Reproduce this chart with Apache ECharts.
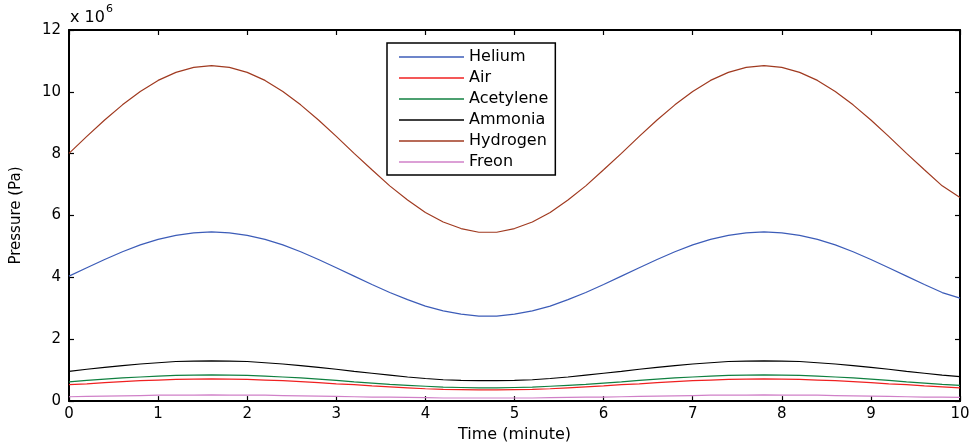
<!DOCTYPE html>
<html>
<head>
<meta charset="utf-8">
<script src="https://cdn.jsdelivr.net/npm/echarts@6/dist/echarts.min.js"></script>
<style>
  html, body { margin: 0; padding: 0; background: #fff; }
  #chart { width: 977px; height: 448px; }
</style>
</head>
<body>
<div id="chart"></div>
<script>
// time in minutes, pressure in units of 10^6 Pa
var times = [0,0.2,0.4,0.6,0.8,1,1.2,1.4,1.6,1.8,2,2.2,2.4,2.6,2.8,3,3.2,3.4,3.6,3.8,4,4.2,4.4,4.6,4.8,5,5.2,5.4,5.6,5.8,6,6.2,6.4,6.6,6.8,7,7.2,7.4,7.6,7.8,8,8.2,8.4,8.6,8.8,9,9.2,9.4,9.6,9.8,10];
var helium = [4.04,4.31,4.58,4.83,5.05,5.23,5.36,5.44,5.47,5.44,5.36,5.23,5.05,4.83,4.58,4.31,4.04,3.77,3.51,3.28,3.07,2.92,2.81,2.75,2.75,2.81,2.92,3.07,3.28,3.51,3.77,4.04,4.31,4.58,4.83,5.05,5.23,5.36,5.44,5.47,5.44,5.36,5.23,5.05,4.83,4.58,4.31,4.04,3.77,3.51,3.33];
var air = [0.53,0.56,0.60,0.63,0.66,0.68,0.70,0.71,0.72,0.71,0.70,0.68,0.66,0.63,0.60,0.56,0.53,0.49,0.46,0.43,0.40,0.38,0.37,0.36,0.36,0.37,0.38,0.40,0.43,0.46,0.49,0.53,0.56,0.60,0.63,0.66,0.68,0.70,0.71,0.72,0.71,0.70,0.68,0.66,0.63,0.60,0.56,0.53,0.49,0.46,0.43];
var acetylene = [0.62,0.67,0.71,0.75,0.78,0.81,0.83,0.84,0.85,0.84,0.83,0.81,0.78,0.75,0.71,0.67,0.62,0.58,0.54,0.51,0.48,0.45,0.44,0.43,0.43,0.44,0.45,0.48,0.51,0.54,0.58,0.62,0.67,0.71,0.75,0.78,0.81,0.83,0.84,0.85,0.84,0.83,0.81,0.78,0.75,0.71,0.67,0.62,0.58,0.54,0.51];
var ammonia = [0.96,1.03,1.09,1.15,1.20,1.24,1.28,1.29,1.30,1.29,1.28,1.24,1.20,1.15,1.09,1.03,0.96,0.90,0.84,0.78,0.73,0.69,0.67,0.66,0.66,0.67,0.69,0.73,0.78,0.84,0.90,0.96,1.03,1.09,1.15,1.20,1.24,1.28,1.29,1.30,1.29,1.28,1.24,1.20,1.15,1.09,1.03,0.96,0.90,0.84,0.79];
var hydrogen = [8.01,8.56,9.09,9.58,10.01,10.37,10.63,10.79,10.85,10.79,10.63,10.37,10.01,9.58,9.09,8.56,8.01,7.48,6.96,6.50,6.10,5.79,5.58,5.46,5.46,5.58,5.79,6.10,6.50,6.96,7.48,8.01,8.56,9.09,9.58,10.01,10.37,10.63,10.79,10.85,10.79,10.63,10.37,10.01,9.58,9.09,8.56,8.01,7.48,6.96,6.58];
var freon = [0.14,0.15,0.16,0.17,0.18,0.19,0.19,0.19,0.20,0.19,0.19,0.19,0.18,0.17,0.16,0.15,0.14,0.13,0.13,0.12,0.11,0.10,0.10,0.10,0.10,0.10,0.10,0.11,0.12,0.13,0.13,0.14,0.15,0.16,0.17,0.18,0.19,0.19,0.19,0.20,0.19,0.19,0.19,0.18,0.17,0.16,0.15,0.14,0.13,0.13,0.12];

var seriesNames = ['Helium', 'Air', 'Acetylene', 'Ammonia', 'Hydrogen', 'Freon'];
var seriesData = [helium, air, acetylene, ammonia, hydrogen, freon];
var seriesColors = ['#3c5cb8', '#f02020', '#108040', '#000000', '#a03a20', '#d080c8'];

var chart = echarts.init(document.getElementById('chart'));
var font = 'DejaVu Sans, Liberation Sans, sans-serif';

function pairs(vals) {
    var out = [];
    for (var i = 0; i < times.length; i++) {
        out.push([times[i], vals[i]]);
    }
    return out;
}

var series = [];
for (var k = 0; k < seriesNames.length; k++) {
    series.push({
        name: seriesNames[k],
        type: 'line',
        data: pairs(seriesData[k]),
        showSymbol: false,
        symbol: 'none',
        animation: false,
        lineStyle: { width: 1.2, color: seriesColors[k] },
        itemStyle: { color: seriesColors[k] }
    });
}

var axisLine = { show: true, onZero: false, lineStyle: { color: '#000', width: 2 } };
var tick = { show: true, inside: true, length: 5, lineStyle: { color: '#000', width: 1.2 } };

chart.setOption({
    backgroundColor: '#fff',
    animation: false,
    grid: { left: 69, right: 17, top: 30, bottom: 44, containLabel: false },
    legend: {
        orient: 'vertical',
        left: 387,
        top: 43,
        icon: 'rect',
        itemWidth: 65,
        itemHeight: 1.5,
        itemGap: 3,
        padding: [5, 7, 4, 12],
        backgroundColor: '#fff',
        borderColor: '#000',
        borderWidth: 1.5,
        borderRadius: 0,
        textStyle: { fontFamily: font, fontSize: 16, color: '#000', lineHeight: 18 },
        data: seriesNames
    },
    xAxis: [{
        type: 'value', min: 0, max: 10, interval: 1,
        name: 'Time (minute)', nameLocation: 'middle', nameGap: 24,
        nameTextStyle: { fontFamily: font, fontSize: 16, color: '#000' },
        axisLine: axisLine, axisTick: tick,
        axisLabel: { fontFamily: font, fontSize: 15, color: '#000', margin: 6 },
        splitLine: { show: false }
    }, {
        type: 'value', min: 0, max: 10, interval: 1, position: 'top',
        axisLine: axisLine, axisTick: tick, axisLabel: { show: false }, splitLine: { show: false }
    }],
    yAxis: [{
        type: 'value', min: 0, max: 12, interval: 2,
        name: 'Pressure (Pa)', nameLocation: 'middle', nameGap: 45,
        nameTextStyle: { fontFamily: font, fontSize: 15, color: '#000' },
        axisLine: axisLine, axisTick: tick,
        axisLabel: { fontFamily: font, fontSize: 15, color: '#000', margin: 8 },
        splitLine: { show: false }
    }, {
        type: 'value', min: 0, max: 12, interval: 2, position: 'right',
        axisLine: axisLine, axisTick: tick, axisLabel: { show: false }, splitLine: { show: false }
    }],
    graphic: [{
        type: 'text',
        left: 70,
        top: 4,
        style: {
            text: '{a|x 10}{b|6}',
            rich: {
                a: { fontFamily: font, fontSize: 16, fill: '#000', padding: [6, 0, 0, 0] },
                b: { fontFamily: font, fontSize: 11, fill: '#000', verticalAlign: 'top', padding: [0, 0, 0, 1] }
            }
        }
    }],
    series: series
});
</script>
</body>
</html>
